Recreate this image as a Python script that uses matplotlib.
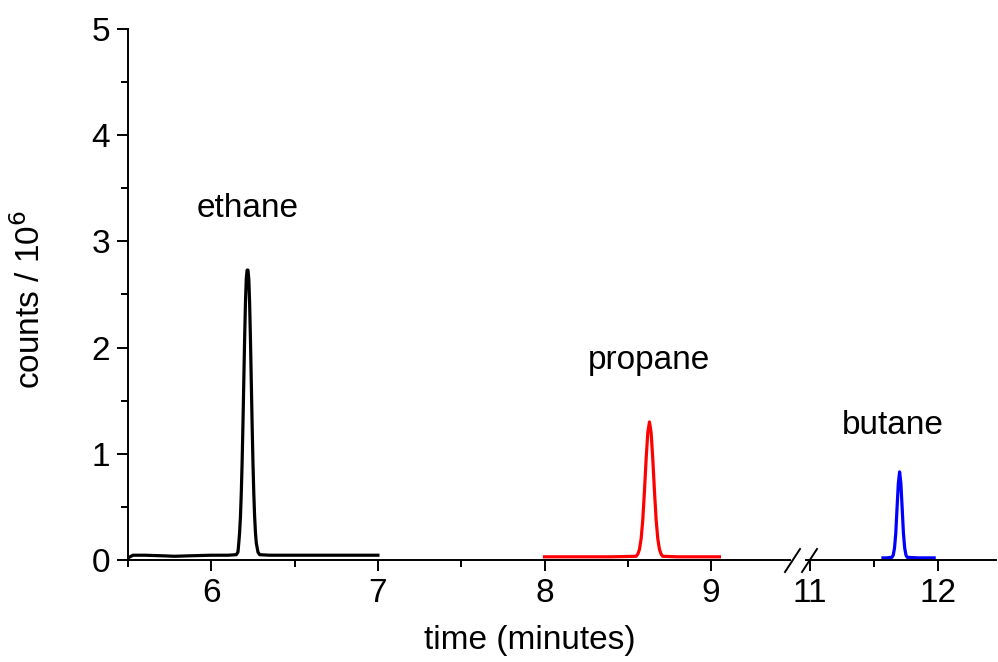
import matplotlib.pyplot as plt
from matplotlib.lines import Line2D
from matplotlib.ticker import MultipleLocator

plt.rcParams['font.family'] = ['Liberation Sans', 'DejaVu Sans']

# chromatogram traces (time in minutes, counts / 1e6)
ethane_t = [5.50, 5.53, 5.60, 5.70, 5.78, 5.88, 6.00, 6.10, 6.15, 6.16, 6.165,
            6.17, 6.175, 6.18, 6.185, 6.19, 6.195, 6.20, 6.205, 6.21, 6.215,
            6.22, 6.225, 6.23, 6.235, 6.24, 6.245, 6.25, 6.255, 6.26, 6.265,
            6.27, 6.28, 6.29, 6.35, 6.50, 6.70, 6.85, 7.00]
ethane_c = [0.02, 0.045, 0.045, 0.04, 0.035, 0.04, 0.045, 0.045, 0.05, 0.075,
            0.16, 0.26, 0.41, 0.63, 0.92, 1.28, 1.68, 2.08, 2.42, 2.65, 2.73,
            2.73, 2.65, 2.42, 2.08, 1.68, 1.28, 0.92, 0.63, 0.41, 0.26, 0.16,
            0.075, 0.05, 0.045, 0.045, 0.045, 0.045, 0.045]

propane_t = [8.00, 8.20, 8.40, 8.55, 8.56, 8.57, 8.58, 8.59, 8.60, 8.61, 8.62,
             8.63, 8.64, 8.65, 8.66, 8.67, 8.68, 8.69, 8.70, 8.71, 8.80, 8.95,
             9.05]
propane_c = [0.03, 0.03, 0.03, 0.035, 0.055, 0.10, 0.20, 0.38, 0.65, 0.95, 1.20,
             1.30, 1.20, 0.95, 0.65, 0.38, 0.20, 0.10, 0.055, 0.035, 0.03, 0.03,
             0.03]

butane_t = [11.57, 11.60, 11.64, 11.65, 11.66, 11.67, 11.68, 11.69, 11.70,
            11.71, 11.72, 11.73, 11.74, 11.75, 11.76, 11.85, 11.97]
butane_c = [0.02, 0.02, 0.025, 0.045, 0.11, 0.25, 0.49, 0.72, 0.83, 0.72, 0.49,
            0.25, 0.11, 0.045, 0.025, 0.02, 0.02]

W, H = 998, 662
fig = plt.figure(figsize=(W / 100, H / 100), dpi=100)

y0, y1 = 560, 29
bottom = (H - y0) / H
height = (y0 - y1) / H

# left part of the broken axis (5.5 - ~9.47), right part (~10.97 - 12.45)
ax1 = fig.add_axes([128 / W, bottom, (790 - 128) / W, height])
ax2 = fig.add_axes([806 / W, bottom, (996 - 806) / W, height])

ax1.plot(ethane_t, ethane_c, color='black', lw=2.3)
ax1.plot(propane_t, propane_c, color='red', lw=2.3)
ax2.plot(butane_t, butane_c, color='blue', lw=2.3)

ax1.set_xlim(5.5, 5.5 + (790 - 128) / 166.6)
ax2.set_xlim(11 - 4 / 128, 12 + (996 - 938) / 128)
for ax in (ax1, ax2):
    ax.set_ylim(0, 5)
    ax.spines['top'].set_visible(False)
    ax.spines['right'].set_visible(False)
    ax.spines['bottom'].set_linewidth(1.4)
    ax.spines['left'].set_linewidth(1.4)
    ax.xaxis.set_major_locator(MultipleLocator(1))
    ax.xaxis.set_minor_locator(MultipleLocator(0.5))
    ax.tick_params(which='major', direction='out', length=8, width=1.4,
                   labelsize=24, pad=5)
    ax.tick_params(which='minor', direction='out', length=5, width=1.4)
    ax.patch.set_alpha(0)

ax1.yaxis.set_major_locator(MultipleLocator(1))
ax1.yaxis.set_minor_locator(MultipleLocator(0.5))
ax2.spines['left'].set_visible(False)
ax2.tick_params(axis='y', which='both', left=False, labelleft=False)

ax1.text(6.22, 3.31, 'ethane', ha='center', va='center', fontsize=24)
ax1.text(8.63, 1.88, 'propane', ha='center', va='center', fontsize=24)
ax2.text(11.65, 1.27, 'butane', ha='center', va='center', fontsize=24)

fig.text(30 / W, 1 - 300 / H, 'counts / 10$^6$', rotation=90, ha='center',
         va='center', fontsize=24)
fig.text(530 / W, 1 - 640 / H, 'time (minutes)', ha='center', va='center',
         fontsize=24)

# break marks
for xa, xb in [(785, 800), (802, 817)]:
    fig.add_artist(Line2D([xa / W, xb / W], [1 - 572 / H, 1 - 549 / H],
                          color='black', lw=1.4))

fig.savefig('out.png', dpi=100)
